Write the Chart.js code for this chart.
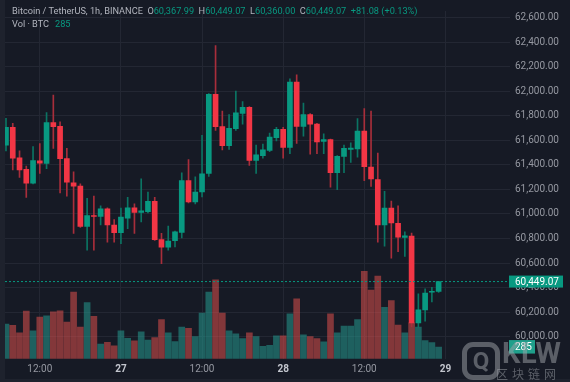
<!DOCTYPE html>
<html>
<head>
<meta charset="utf-8">
<script src="https://cdn.jsdelivr.net/npm/chart.js@4.4.1/dist/chart.umd.min.js"></script>
<style>
html,body{margin:0;padding:0;width:570px;height:382px;overflow:hidden;background:#1e222d;font-family:Roboto,"Noto Sans",sans-serif}
#wrap{position:absolute;left:5px;top:0;width:565px;height:379px;background:#161a25}
canvas{display:block}
#hdr{position:absolute;left:12px;top:5px;font-size:9.2px;line-height:12.5px;color:#b2b5be;white-space:nowrap}
#hdr .g{color:#089981}
#hdr .k{margin-left:4.5px}
#wm{position:absolute;left:462px;top:340px;color:rgba(160,163,170,0.5);white-space:nowrap}
#wm .q{position:absolute;left:0;top:2px;width:38px;height:38px;border:5px solid rgba(160,163,170,0.5);border-radius:11px;box-sizing:border-box;font:bold 24px Roboto;text-align:center;line-height:28px}
#wm .t{position:absolute;left:40px;top:-4px;font:bold 29px Roboto;letter-spacing:0.5px}
#wm .c{position:absolute;left:34px;top:25px;font:12px "Noto Sans CJK SC";letter-spacing:4px}
</style>
</head>
<body>
<div id="wrap"><canvas id="c" width="565" height="379"></canvas></div>
<div id="hdr">
  <div>Bitcoin / TetherUS, 1h, BINANCE<span class="k">O</span><span class="g">60,367.99</span><span class="k">H</span><span class="g">60,449.07</span><span class="k">L</span><span class="g">60,360.00</span><span class="k">C</span><span class="g">60,449.07</span><span class="g k">+81.08 (+0.13%)</span></div>
  <div>Vol · BTC<span class="g" style="margin-left:6px">285</span></div>
</div>
<div id="wm"><span class="q">Q</span><span class="t">KLW</span><span class="c">区块链网</span></div>
<script>
// ---- data (1h candles, 26th 07:00 -> 28th 23:00) ----
const open  = [61561,61706,61458,61364,61250,61432,61411,61745,61713,61450,61253,61226,60898,60987,60979,61042,60910,60847,60966,61050,61013,61019,61103,60792,60729,60782,60850,61271,61097,61179,61329,61974,61711,61556,61695,61818,61869,61435,61474,61518,61621,61690,61542,62074,61713,61810,61732,61590,61605,61337,61469,61526,61529,61674,61382,61279,60910,61048,60924,60808,60819,60113,60219,60362,60367.99];
const high  = [61779,61737,61514,61390,61548,61574,61826,61968,61750,61534,61342,61245,61127,61145,61066,61050,60955,61048,61135,61082,61285,61179,61135,60842,60902,60860,61334,61443,61303,61640,61980,62371,61837,61810,62000,61916,61875,61561,61569,61658,61706,61706,62100,62134,61903,61818,61737,61653,61610,61475,61561,61579,61777,61858,61837,61495,61184,61105,61066,60855,60845,60350,60389,60403,60449.07];
const low   = [61514,61358,61297,61135,61245,61329,61368,61534,61171,61145,60842,60890,60705,60705,60910,60771,60771,60758,60879,60842,60934,61008,60785,60595,60705,60732,60805,61090,61082,61139,61305,61680,61522,61526,61680,61732,61395,61329,61455,61508,61595,61455,61490,61574,61634,61487,61490,61490,61218,61198,61337,61419,61463,61271,61224,60771,60737,60640,60692,60653,60079,60073,60126,60284,60360.00];
const close = [61706,61455,61358,61250,61435,61413,61745,61711,61450,61258,61226,60898,60987,60979,61042,60910,60847,60974,61050,61013,61026,61103,60790,60729,60779,60855,61271,61097,61179,61327,61974,61711,61556,61698,61824,61869,61435,61482,61522,61627,61690,61542,62074,61713,61810,61732,61587,61605,61337,61469,61534,61537,61674,61384,61285,60910,61048,60926,60811,60821,60113,60219,60355,60368,60449.07];
const volume = [848,815,634,1164,682,1021,1052,1147,1171,895,1632,777,1378,1038,356,404,316,682,499,435,658,458,515,957,634,420,777,743,539,1116,1632,1931,1116,682,610,492,634,539,302,325,563,563,1100,1465,587,539,492,411,1100,634,800,800,957,2138,1679,2026,1259,1425,824,634,879,777,444,397,285];
const priceTicks = [60000,60200,60400,60600,60800,61000,61200,61400,61600,61800,62000,62200,62400,62600];
const timeTickIdx = [5,17,29,41,53,65];
const timeTickLabels = ['12:00','27','12:00','28','12:00','29'];
const dayTicks = ['27','28','29'];

// ---- styling ----
const UP = '#089981', DOWN = '#f23645';
const UP_W = '#0b7463', DOWN_W = '#a82e3b';
const UP_V = 'rgba(38,166,154,0.5)', DOWN_V = 'rgba(239,83,80,0.5)';
const GRID = '#232733';
const xMin = -0.148, xMax = 74.556;
const yMin = 59820.8, yMax = 62653;
const volMax = 8519;
const lastClose = close[close.length-1];
const lastVol = volume[volume.length-1];
const isUp = open.map((o,i)=>close[i] >= o);

const fmt = v => Number(v).toLocaleString('en-US',{minimumFractionDigits:2,maximumFractionDigits:2});

const lastLabels = {
  id:'lastLabels',
  afterDraw(chart){
    const c = chart.ctx, ys = chart.scales.y, vs = chart.scales.vol;
    c.save();
    c.font = '10px Roboto';
    c.textBaseline = 'middle';
    c.textAlign = 'left';
    let yp = ys.getPixelForValue(lastClose);
    c.fillStyle = UP;
    c.fillRect(ys.left - 1, yp - 6, 54, 12);
    c.fillStyle = '#ffffff';
    c.fillText(fmt(lastClose), ys.left + 5, yp + 0.5);
    let vp = vs.getPixelForValue(lastVol);
    c.fillStyle = '#1f9f8b';
    c.fillRect(ys.left - 1, vp - 7, 26, 13.5);
    c.fillStyle = '#ffffff';
    c.fillText(String(lastVol), ys.left + 5, vp);
    c.restore();
  }
};

new Chart(document.getElementById('c'), {
  type:'bar',
  data:{
    datasets:[
      {type:'line', label:'last', data:[{x:xMin,y:lastClose},{x:xMax,y:lastClose}], borderColor:UP, borderWidth:1, borderDash:[2,2], pointRadius:0, yAxisID:'y', order:0},
      {label:'body', data:open.map((o,i)=>({x:i,y:[o,close[i]]})), backgroundColor:isUp.map(u=>u?UP:DOWN), barThickness:5, minBarLength:1, grouped:false, borderSkipped:false, yAxisID:'y', order:1},
      {label:'wick', data:low.map((l,i)=>({x:i,y:[l,high[i]]})), backgroundColor:isUp.map(u=>u?UP_W:DOWN_W), barThickness:1, grouped:false, yAxisID:'y', order:2},
      {label:'vol', data:volume.map((v,i)=>({x:i,y:v})), backgroundColor:isUp.map(u=>u?UP_V:DOWN_V), barThickness:6, grouped:false, yAxisID:'vol', order:3}
    ]
  },
  options:{
    responsive:false, animation:false, devicePixelRatio:1,
    layout:{padding:0},
    plugins:{legend:{display:false}, tooltip:{enabled:false}},
    scales:{
      x:{type:'linear', min:xMin, max:xMax, offset:false, position:'bottom', bounds:'data',
        grid:{color:GRID, offset:false, drawTicks:false}, border:{display:false},
        afterBuildTicks:s=>{s.ticks = timeTickIdx.map(v=>({value:v}));},
        afterFit:s=>{s.height = 20.3;},
        ticks:{autoSkip:false, maxRotation:0, minRotation:0, padding:5,
          color:ctx=>dayTicks.includes(timeTickLabels[ctx.index])?'#c3c6ce':'#9598a1',
          font:ctx=>({family:'Roboto', size:10, weight:dayTicks.includes(timeTickLabels[ctx.index])?'bold':'normal'}),
          callback:(v,i)=>timeTickLabels[i]}
      },
      y:{type:'linear', position:'right', min:yMin, max:yMax, bounds:'data',
        grid:{color:GRID, drawTicks:false}, border:{display:false},
        afterBuildTicks:s=>{s.ticks = priceTicks.map(v=>({value:v}));},
        afterFit:s=>{s.width = 60;},
        ticks:{padding:5, color:'#9598a1', font:{family:'Roboto', size:10}, callback:v=>fmt(v)}
      },
      vol:{type:'linear', display:false, min:0, max:volMax, position:'left'}
    }
  },
  plugins:[lastLabels]
});
</script>
</body>
</html>
